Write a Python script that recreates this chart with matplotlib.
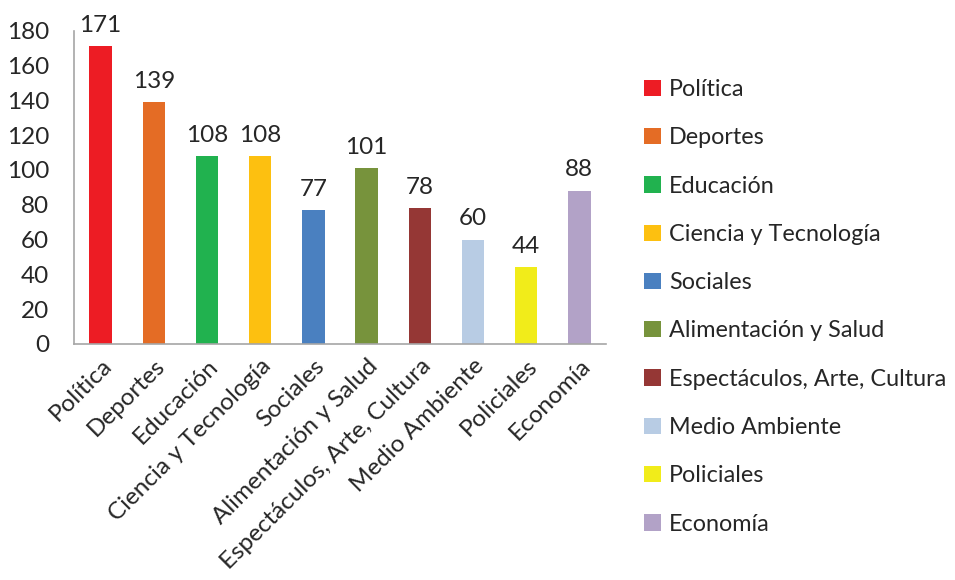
import matplotlib.pyplot as plt

plt.rcParams['font.family'] = ['Lato', 'DejaVu Sans']

categorias = ['Política', 'Deportes', 'Educación', 'Ciencia y Tecnología', 'Sociales',
              'Alimentación y Salud', 'Espectáculos, Arte, Cultura', 'Medio Ambiente',
              'Policiales', 'Economía']
valores = [171, 139, 108, 108, 77, 101, 78, 60, 44, 88]
colores = ['#ED1C24', '#E46C25', '#21B24F', '#FDC010', '#4A80C0',
           '#77933C', '#953735', '#B8CCE4', '#F1EC1A', '#B2A2C7']

fig = plt.figure(figsize=(9.55, 5.8), dpi=100)
ax = fig.add_axes([0.0775, 0.407, 0.557, 0.54])

x = range(len(categorias))
barras = ax.bar(x, valores, width=0.42, color=colores, label=categorias)

# etiquetas encima de cada barra
for xi, v in zip(x, valores):
    ax.text(xi, v + 6, str(v), ha='center', va='bottom', fontsize=17.5, color='#262626')

ax.set_xlim(-0.5, 9.5)
ax.set_ylim(0, 180)
ax.set_yticks(range(0, 181, 20))
ax.tick_params(axis='y', length=0, labelsize=17.5, labelcolor='#262626', pad=18)
ax.tick_params(axis='x', length=0, labelsize=17.5, labelcolor='#262626', pad=8)
ax.set_xticks(list(x))
ax.set_xticklabels(categorias, rotation=45, ha='right', rotation_mode='anchor')

for s in ['top', 'right']:
    ax.spines[s].set_visible(False)
for s in ['left', 'bottom']:
    ax.spines[s].set_color('#A6A6A6')
    ax.spines[s].set_linewidth(1.2)

leg = fig.legend(handles=list(barras), labels=categorias, loc='upper left',
                 bbox_to_anchor=(0.66, 0.888), frameon=False, fontsize=16.8,
                 handlelength=0.7, handleheight=0.7, handletextpad=0.35,
                 labelspacing=1.17, labelcolor='#262626', borderaxespad=0.2)

fig.savefig('out.png', dpi=100)
